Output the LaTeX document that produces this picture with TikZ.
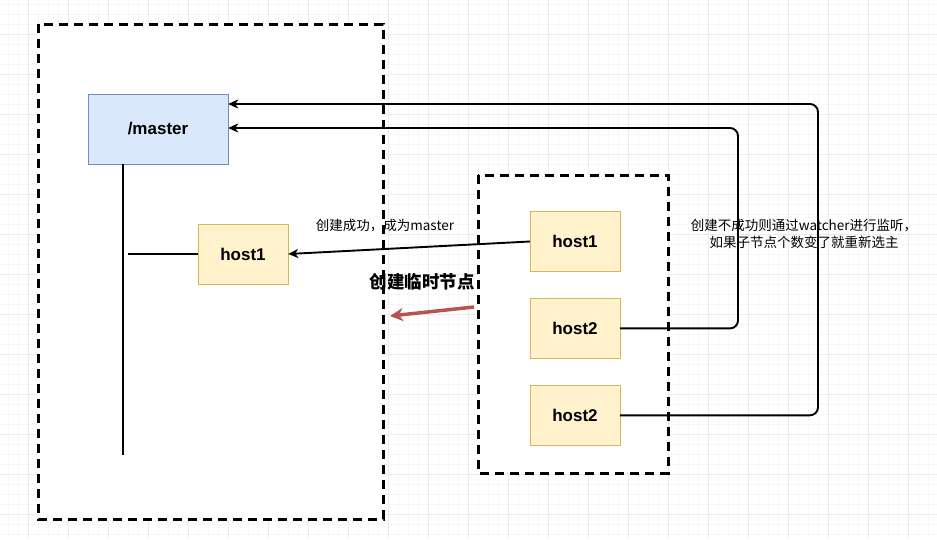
\documentclass[tikz,border=0pt]{standalone}
\usepackage{fontspec}
\setmainfont{Liberation Sans}
\newfontfamily\cjk{Noto Sans CJK SC}
\usetikzlibrary{arrows,arrows.meta,positioning}
\definecolor{masterfill}{HTML}{DAE8FC}
\definecolor{masterline}{HTML}{6C8EBF}
\definecolor{hostfill}{HTML}{FFF2CC}
\definecolor{hostline}{HTML}{D6B656}
\definecolor{tmpred}{HTML}{B85450}
\begin{document}
\begin{tikzpicture}[x=1pt,y=-1pt,>={Stealth[length=10pt,width=9pt,inset=3pt]},node distance=26.5pt,
    gridminor/.style={draw=black!3,line width=0.5pt},
    gridmajor/.style={draw=black!8,line width=0.6pt},
    zone/.style={draw,fill=white,line width=3pt,dash pattern=on 9pt off 6pt},
    master/.style={draw=masterline,fill=masterfill,minimum width=140pt,minimum height=70pt,font=\fontsize{17}{20}\selectfont\bfseries},
    host/.style={draw=hostline,fill=hostfill,minimum width=90pt,minimum height=60pt,font=\fontsize{17}{20}\selectfont\bfseries},
    wire/.style={line width=1.9pt},
    note/.style={font=\cjk\fontsize{13.5}{17}\selectfont,align=center}]
      \useasboundingbox (0,0) rectangle (937,539);
      % background grid
      \foreach \gx in {8,18,...,928} \draw[gridminor] (\gx,0) -- (\gx,539);
      \foreach \gy in {4,14,...,534} \draw[gridminor] (0,\gy) -- (937,\gy);
      \foreach \gx in {28,68,...,908} \draw[gridmajor] (\gx,0) -- (\gx,539);
      \foreach \gy in {34,74,...,514} \draw[gridmajor] (0,\gy) -- (937,\gy);
      % dashed groups
      \draw[zone] (38,24) rectangle (383,519);
      \draw[zone] (478,175) rectangle (668,473);
      % nodes
      \node[master] (master) at (158,129) {/master};
      \node[host] (h1) at (243,254) {host1};
      \node[host] (r1) at (575,241.5) {host1};
      \node[host] (r2) [below=of r1] {host2};
      \node[host] (r3) [below=of r2] {host2};
      \coordinate (trunkEnd) at (123,455);
      \coordinate (branch) at (128,254);
      \coordinate (loopA) at (738,128);
      \coordinate (loopB) at (818,104);
      \coordinate (tmpStart) at (474,307);
      \coordinate (tmpEnd) at (390,316);
      % connectors
      \draw[wire] (master.south -| trunkEnd) -- (trunkEnd);
      \draw[wire] (branch) -- (h1.west);
      \draw[wire,->] (r1.west) -- (h1.east);
      \draw[wire,->,rounded corners=8pt] (r2.east) -| (loopA) -- (loopA -| master.east);
      \draw[wire,->,rounded corners=8pt] (r3.east) -| (loopB) -- (loopB -| master.east);
      \draw[tmpred,line width=3.5pt,-{Stealth[length=13pt,width=13pt,inset=4pt]}] (tmpStart) -- (tmpEnd);
      % labels
      \node[note] (okLabel) at (385,226) {创建成功，成为master};
      \node[note,font=\cjk\fontsize{17.5}{20}\selectfont\bfseries] (tmpLabel) at (422,282) {创建临时节点};
      \node[note] (watchLabel) at (804,234) {创建不成功则通过watcher进行监听，\\如果子节点个数变了就重新选主};
    \end{tikzpicture}
\end{document}
